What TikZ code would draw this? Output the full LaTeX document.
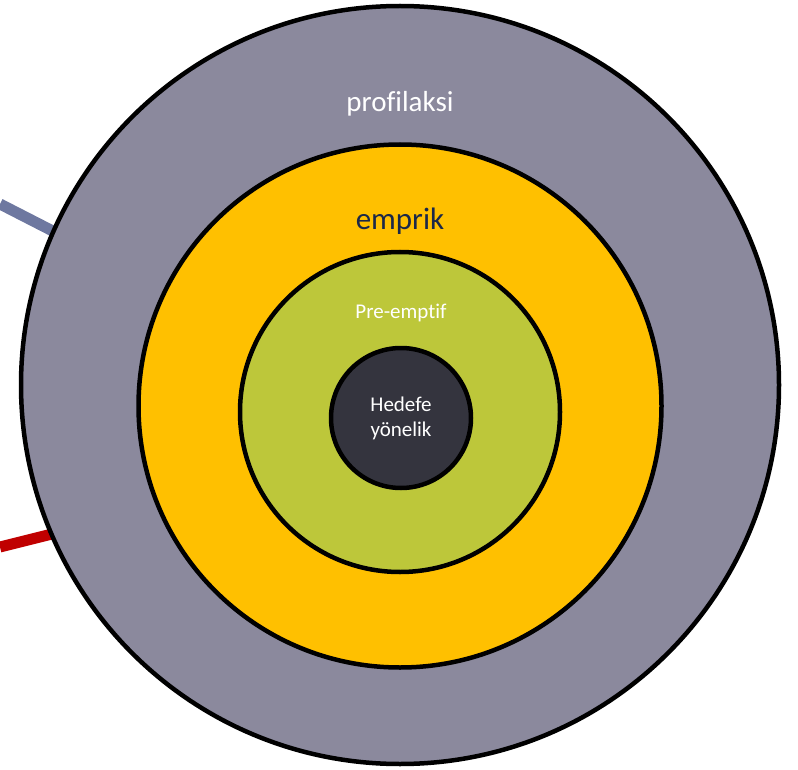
\documentclass[tikz,border=0pt]{standalone}
\usepackage{fontspec}
\setmainfont{Carlito}[Ligatures={NoCommon}, RawFeature={-liga;-dlig}]
\usepackage{xcolor}
\usepackage{tikz}
\usetikzlibrary{backgrounds}
\definecolor{lvlgray}{RGB}{139,137,157}
\definecolor{lvlgold}{RGB}{255,192,0}
\definecolor{lvllime}{RGB}{189,199,58}
\definecolor{lvldark}{RGB}{52,52,62}
\definecolor{lvlnavy}{RGB}{27,40,72}
\definecolor{lvlblue}{RGB}{110,120,160}
\definecolor{lvlred}{RGB}{192,0,0}

\begin{document}
\begin{tikzpicture}[x=1pt, y=-1pt,
    ring/.style={circle, draw=black, line width=4.5pt, inner sep=0pt},
    lbl/.style={anchor=base, align=center}]
    \useasboundingbox (0,0) rectangle (798,770);

    % Nested levels
    \node[ring, fill=lvlgray, minimum size=758pt] (profil) at (400,385) {};
    \node[ring, fill=lvlgold, minimum size=523pt] (empir) at (400,406) {};
    \node[ring, fill=lvllime, minimum size=320pt] (preemp) at (400,412) {};
    \node[ring, fill=lvldark, minimum size=140pt] (hedef) at (401,418) {};

    % Level labels
    \node[lbl, font=\fontsize{29}{34}\selectfont, color=white] (tprofil) at (400,112) {profilaksi};
    \node[lbl, font=\fontsize{31}{36}\selectfont, color=lvlnavy] (tempir) at (400,230) {emprik};
    \node[lbl, font=\fontsize{21}{25}\selectfont, color=white] (tpreemp) at (401,318) {Pre-emptif};
    \node[lbl, font=\fontsize{21}{25}\selectfont, color=white] (thedef) at (401,436) {Hedefe\\yönelik};

    % Lines coming in from the left
    \coordinate (bluein) at (0,204);
    \coordinate (blueout) at (80,245);
    \coordinate (redin) at (0,547);
    \coordinate (redout) at (80,527);
    \begin{scope}[on background layer]
        \draw[line width=11pt, color=lvlblue] (bluein) -- (blueout);
        \draw[line width=11pt, color=lvlred] (redin) -- (redout);
    \end{scope}
\end{tikzpicture}
\end{document}
